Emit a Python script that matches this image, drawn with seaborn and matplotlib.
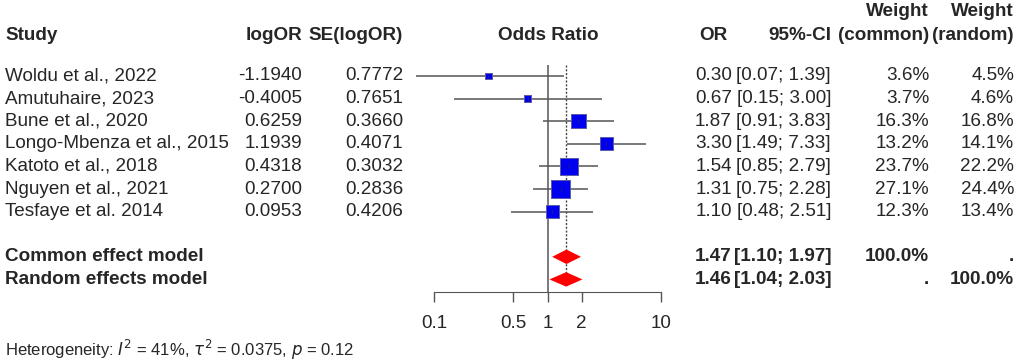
import numpy as np
import pandas as pd
import matplotlib
matplotlib.use("Agg")
import matplotlib.pyplot as plt
import matplotlib.transforms as mtransforms
import seaborn as sns

# Study-level data
studies = ["Woldu et al., 2022", "Amutuhaire, 2023", "Bune et al., 2020",
           "Longo-Mbenza et al., 2015", "Katoto et al., 2018",
           "Nguyen et al., 2021", "Tesfaye et al. 2014"]
log_or = ["-1.1940", "-0.4005", "0.6259", "1.1939", "0.4318", "0.2700", "0.0953"]
se_log_or = ["0.7772", "0.7651", "0.3660", "0.4071", "0.3032", "0.2836", "0.4206"]
odds_ratio = [0.30, 0.67, 1.87, 3.30, 1.54, 1.31, 1.10]
ci_low = [0.07, 0.15, 0.91, 1.49, 0.85, 0.75, 0.48]
ci_high = [1.39, 3.00, 3.83, 7.33, 2.79, 2.28, 2.51]
w_common = [3.6, 3.7, 16.3, 13.2, 23.7, 27.1, 12.3]
w_random = [4.5, 4.6, 16.8, 14.1, 22.2, 24.4, 13.4]

# Pooled estimates
models = ["Common effect model", "Random effects model"]
pooled_or = [1.47, 1.46]
pooled_low = [1.10, 1.04]
pooled_high = [1.97, 2.03]
pooled_w_common = ["100.0%", "."]
pooled_w_random = [".", "100.0%"]

ticks = [0.1, 0.5, 1, 2, 10]
hetero = r"Heterogeneity: $I^2$ = 41%, $\tau^2$ = 0.0375, $p$ = 0.12"

W, H = 1022, 363
fig = plt.figure(figsize=(W / 100, H / 100), dpi=100)
sns.set_style("white")
plt.rcParams['font.family'] = ['Liberation Sans', 'DejaVu Sans']

# forest panel: 0.1 at px 434, 10 at px 661; row k at px 76 + (k-1)*22.6
ax = fig.add_axes([434 / W, 0, (661 - 434) / W, 1])
ax.set_xscale("log")
ax.set_xlim(0.1, 10)
row_px = 22.6
ax.set_ylim((H - 76) / row_px + 1, 1 - 76 / row_px)
ax.patch.set_alpha(0)

df = pd.DataFrame({"study": studies, "OR": odds_ratio, "lo": ci_low,
                   "hi": ci_high, "w": w_common})
df["row"] = np.arange(1, len(df) + 1)
fs = 13.6
line_c = "#555555"

# confidence intervals
ax.hlines(df["row"], df["lo"], df["hi"], color=line_c, lw=1.1, clip_on=False, zorder=2)

# squares, side proportional to sqrt(weight)
size_map = {w: (3.6 * np.sqrt(w) * 0.72) ** 2 for w in df["w"]}
sns.scatterplot(data=df, x="OR", y="row", size="w", sizes=size_map, marker="s",
                color="#0000ee", edgecolor="#5a5aa8", linewidth=0.7,
                legend=False, ax=ax, clip_on=False, zorder=3)
ax.scatter(df["OR"], df["row"], marker="|", s=10, color="#222266", lw=0.6, zorder=4)

# reference lines
ax.vlines(1, 0.5, 10.56, color=line_c, lw=1.1, zorder=1)
ax.vlines(pooled_or[0], 0.5, 10, color="#444444", lw=1.0, linestyles=(0, (1.5, 1.2)), zorder=1)

# pooled diamonds
for i, (est, lo, hi) in enumerate(zip(pooled_or, pooled_low, pooled_high)):
    r = 9 + i
    ax.fill([lo, est, hi, est], [r, r - 0.32, r, r + 0.32], color="#ff0000",
            lw=0, zorder=3)

# x axis
for s in ["top", "right", "left"]:
    ax.spines[s].set_visible(False)
ax.spines["bottom"].set_position(("data", 10.56))
ax.spines["bottom"].set_bounds(0.1, 10)
ax.spines["bottom"].set_color(line_c)
ax.set_xticks(ticks)
ax.set_xticklabels([f"{t:g}" for t in ticks], fontsize=fs)
ax.minorticks_off()
ax.tick_params(axis="x", which="major", direction="out", length=7.2, width=1.0,
               color=line_c, pad=9, bottom=True)
ax.set_yticks([])
ax.set_xlabel("")
ax.set_ylabel("")

# text columns
tr = mtransforms.blended_transform_factory(fig.transFigure, ax.transData)


def put(px, row, s, ha="left", bold=False, size=fs):
    ax.text(px / W, row, s, transform=tr, ha=ha, va="center", fontsize=size,
            fontweight="bold" if bold else "normal", clip_on=False)


hdr = 1 + (35 - 76) / row_px
hdr_top = 1 + (12 - 76) / row_px
put(5, hdr, "Study", bold=True)
put(302, hdr, "logOR", ha="right", bold=True)
put(403, hdr, "SE(logOR)", ha="right", bold=True)
put(548, hdr, "Odds Ratio", ha="center", bold=True)
put(728, hdr, "OR", ha="right", bold=True)
put(831, hdr, "95%-CI", ha="right", bold=True)
put(929, hdr_top, "Weight", ha="right", bold=True)
put(929, hdr, "(common)", ha="right", bold=True)
put(1014, hdr_top, "Weight", ha="right", bold=True)
put(1014, hdr, "(random)", ha="right", bold=True)

for i in range(len(studies)):
    r = i + 1
    put(5, r, studies[i])
    put(302, r, log_or[i], ha="right")
    put(403, r, se_log_or[i], ha="right")
    put(732, r, f"{odds_ratio[i]:.2f}", ha="right")
    put(831, r, f"[{ci_low[i]:.2f}; {ci_high[i]:.2f}]", ha="right")
    put(929, r, f"{w_common[i]:.1f}%", ha="right")
    put(1014, r, f"{w_random[i]:.1f}%", ha="right")

for i in range(len(models)):
    r = 9 + i
    put(5, r, models[i], bold=True)
    put(732, r, f"{pooled_or[i]:.2f}", ha="right", bold=True)
    put(831, r, f"[{pooled_low[i]:.2f}; {pooled_high[i]:.2f}]", ha="right", bold=True)
    put(929, r, pooled_w_common[i], ha="right", bold=True)
    put(1014, r, pooled_w_random[i], ha="right", bold=True)

put(5, 1 + (350 - 76) / row_px, hetero, size=12)

fig.savefig("out.png", dpi=100)
